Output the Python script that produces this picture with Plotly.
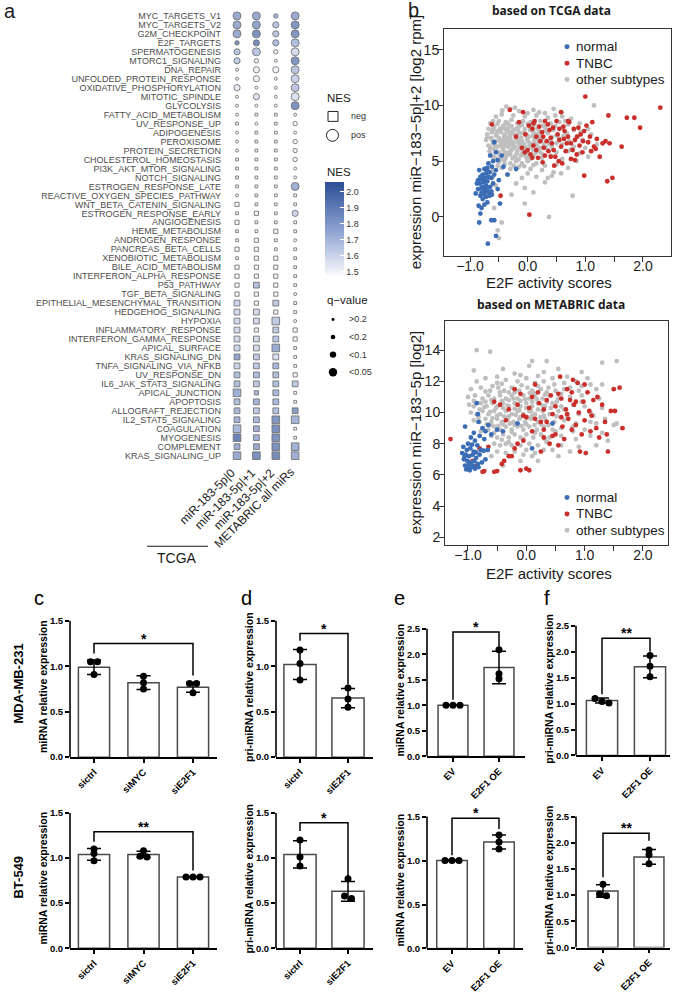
import plotly.graph_objects as go

W, H = 675, 993
def px(x): return x / W
def py(y): return 1 - y / H

FONT = "Liberation Sans"

# ---------------- panel a data ----------------
hallmarks = ["MYC_TARGETS_V1", "MYC_TARGETS_V2", "G2M_CHECKPOINT", "E2F_TARGETS", "SPERMATOGENESIS",
             "MTORC1_SIGNALING", "DNA_REPAIR", "UNFOLDED_PROTEIN_RESPONSE", "OXIDATIVE_PHOSPHORYLATION",
             "MITOTIC_SPINDLE", "GLYCOLYSIS", "FATTY_ACID_METABOLISM", "UV_RESPONSE_UP", "ADIPOGENESIS",
             "PEROXISOME", "PROTEIN_SECRETION", "CHOLESTEROL_HOMEOSTASIS", "PI3K_AKT_MTOR_SIGNALING",
             "NOTCH_SIGNALING", "ESTROGEN_RESPONSE_LATE", "REACTIVE_OXYGEN_SPECIES_PATHWAY",
             "WNT_BETA_CATENIN_SIGNALING", "ESTROGEN_RESPONSE_EARLY", "ANGIOGENESIS", "HEME_METABOLISM",
             "ANDROGEN_RESPONSE", "PANCREAS_BETA_CELLS", "XENOBIOTIC_METABOLISM", "BILE_ACID_METABOLISM",
             "INTERFERON_ALPHA_RESPONSE", "P53_PATHWAY", "TGF_BETA_SIGNALING",
             "EPITHELIAL_MESENCHYMAL_TRANSITION", "HEDGEHOG_SIGNALING", "HYPOXIA", "INFLAMMATORY_RESPONSE",
             "INTERFERON_GAMMA_RESPONSE", "APICAL_SURFACE", "KRAS_SIGNALING_DN", "TNFA_SIGNALING_VIA_NFKB",
             "UV_RESPONSE_DN", "IL6_JAK_STAT3_SIGNALING", "APICAL_JUNCTION", "APOPTOSIS",
             "ALLOGRAFT_REJECTION", "IL2_STAT5_SIGNALING", "COAGULATION", "MYOGENESIS", "COMPLEMENT",
             "KRAS_SIGNALING_UP"]
a_columns = ["miR-183-5p|0", "miR-183-5p|+1", "miR-183-5p|+2", "METABRIC all miRs"]

# signed NES (negative -> square), q class: 0 >0.2, 1 <0.2, 2 <0.1, 3 <0.05
nes_mir0 = [1.85, 1.85, 1.85, 1.98, 1.72, 1.70, 1.48, 1.48, 1.55, 1.48,
            1.48, 1.48, -1.48, 1.48, 1.48, 1.48, -1.48, -1.48, -1.48, -1.48,
            1.48, -1.50, -1.48, -1.50, -1.48, -1.48, -1.50, -1.48, -1.50, -1.50,
            -1.50, -1.50, -1.65, -1.63, -1.62, -1.62, -1.62, -1.65, -1.88, -1.65,
            -1.75, -1.75, -1.82, -1.75, -1.78, -1.82, -1.78, -2.05, -1.85, -1.85]
q_mir0 = [3, 3, 3, 1, 2, 2, 0, 0, 2, 0,
          0, 0, 0, 0, 0, 0, 0, 0, 0, 0,
          0, 1, 0, 1, 0, 0, 1, 0, 1, 1,
          1, 1, 2, 2, 2, 2, 2, 2, 2, 2,
          2, 2, 3, 2, 2, 2, 3, 3, 2, 3]
nes_mir1 = [1.85, 1.88, 1.97, 2.00, 1.72, 1.50, 1.52, 1.52, 1.48, 1.58,
            1.48, -1.48, 1.48, -1.48, -1.48, -1.48, -1.48, -1.48, -1.48, -1.48,
            -1.48, -1.48, -1.50, -1.48, -1.48, -1.50, -1.50, -1.50, -1.50, -1.50,
            -1.74, -1.50, -1.52, -1.62, -1.62, -1.55, -1.63, -1.62, -1.70, -1.70,
            -1.75, -1.70, -1.78, -1.80, -1.70, -1.78, -1.82, -1.82, -1.85, -1.98]
q_mir1 = [3, 3, 3, 2, 3, 1, 2, 2, 0, 2,
          0, 0, 0, 0, 0, 0, 0, 0, 0, 0,
          0, 0, 1, 0, 0, 1, 1, 1, 1, 1,
          2, 1, 1, 2, 2, 1, 2, 2, 2, 2,
          2, 2, 1, 2, 2, 2, 2, 2, 2, 3]
nes_mir2 = [1.80, 1.72, 1.72, 1.75, 1.52, 1.48, 1.50, 1.48, 1.48, 1.48,
            1.48, -1.48, -1.48, -1.48, -1.48, -1.48, -1.48, -1.48, -1.48, -1.48,
            -1.48, -1.48, -1.48, -1.48, -1.50, -1.48, -1.48, -1.50, -1.50, -1.50,
            -1.50, -1.50, -1.70, -1.52, -1.70, -1.70, -1.72, -1.85, -1.60, -1.78,
            -1.75, -1.75, -1.78, -1.78, -1.75, -1.95, -1.98, -1.98, -1.98, -2.00]
q_mir2 = [1, 2, 2, 2, 1, 0, 2, 0, 0, 0,
          0, 0, 0, 0, 0, 0, 0, 0, 0, 0,
          0, 0, 0, 0, 1, 0, 0, 1, 1, 1,
          1, 1, 2, 1, 3, 2, 2, 3, 2, 2,
          2, 2, 2, 2, 2, 3, 3, 3, 3, 3]
nes_metabric = [1.85, 1.95, 1.95, 1.75, 1.62, 1.95, 1.72, 1.66, 1.72, 1.58,
                1.97, 1.48, 1.50, 1.48, 1.50, 1.50, 1.50, 1.48, 1.48, 1.82,
                -1.48, -1.48, 1.65, -1.48, -1.48, 1.48, -1.48, -1.48, -1.48, -1.48,
                -1.48, 1.48, -1.48, -1.48, 1.48, -1.50, -1.50, -1.48, -1.48, -1.48,
                -1.50, -1.70, -1.48, -1.48, -1.92, -1.80, -1.48, -1.48, -1.82, -1.82]
q_metabric = [3, 3, 3, 3, 3, 3, 3, 3, 3, 3,
              3, 0, 1, 0, 1, 1, 1, 0, 0, 3,
              0, 0, 2, 0, 0, 0, 0, 0, 0, 0,
              0, 0, 0, 0, 0, 1, 1, 0, 0, 0,
              1, 2, 0, 0, 2, 3, 0, 0, 3, 3]
q_labels = [">0.2", "<0.2", "<0.1", "<0.05"]
nes_ticks = [1.5, 1.6, 1.7, 1.8, 1.9, 2.0]

# ---------------- panel b data ----------------
tcga_other = [(-0.37, 9.9), (-0.3, 9.7), (-0.15, 9.5), (0.1, 9.6), (0.45, 9.7), (0.58, 9.4), (1.15, 10.0), (0.3, 9.3),
              (-0.55, 9.0), (-0.45, 9.2), (-0.25, 9.1), (-0.05, 9.0), (0.15, 9.1), (0.35, 8.9), (0.6, 9.0), (0.75, 8.8), (-0.6, 8.6),
              (-0.65, 8.4), (-0.5, 8.6), (-0.38, 8.5), (-0.28, 8.7), (-0.18, 8.4), (-0.08, 8.6), (0.05, 8.5), (0.22, 8.6), (0.4, 8.4), (0.55, 8.5), (0.7, 8.3), (0.9, 8.4),
              (-0.68, 7.9), (-0.58, 8.1), (-0.48, 7.9), (-0.42, 8.2), (-0.33, 8.0), (-0.25, 7.8), (-0.15, 8.1), (-0.05, 7.9), (0.08, 8.1), (0.18, 7.9), (0.3, 8.0), (0.45, 7.8), (0.6, 8.0), (0.8, 7.8), (1.05, 7.9),
              (-0.7, 7.4), (-0.62, 7.6), (-0.55, 7.3), (-0.47, 7.6), (-0.4, 7.4), (-0.32, 7.6), (-0.22, 7.3), (-0.12, 7.5), (-0.02, 7.4), (0.1, 7.6), (0.22, 7.3), (0.35, 7.5), (0.5, 7.3), (0.68, 7.5), (0.85, 7.2), (1.1, 7.4),
              (-0.72, 6.9), (-0.63, 7.1), (-0.56, 6.8), (-0.5, 7.1), (-0.43, 6.9), (-0.36, 7.1), (-0.28, 6.8), (-0.2, 7.0), (-0.1, 6.8), (0.0, 7.1), (0.12, 6.9), (0.25, 7.0), (0.4, 6.8), (0.55, 7.0), (0.72, 6.8), (0.95, 6.9),
              (-0.68, 6.4), (-0.6, 6.6), (-0.52, 6.3), (-0.45, 6.6), (-0.38, 6.4), (-0.3, 6.6), (-0.22, 6.3), (-0.14, 6.5), (-0.05, 6.3), (0.05, 6.6), (0.15, 6.4), (0.28, 6.5), (0.42, 6.3), (0.6, 6.5), (0.8, 6.3), (1.2, 6.5),
              (-0.66, 5.9), (-0.58, 6.1), (-0.5, 5.8), (-0.42, 6.0), (-0.34, 5.8), (-0.26, 6.1), (-0.18, 5.9), (-0.1, 6.1), (0.0, 5.8), (0.1, 6.0), (0.22, 5.8), (0.35, 6.0), (0.5, 5.8), (0.7, 5.9), (0.9, 5.7),
              (-0.6, 5.4), (-0.48, 5.5), (-0.38, 5.3), (-0.3, 5.6), (-0.22, 5.4), (-0.12, 5.5), (-0.02, 5.3), (0.1, 5.5), (0.25, 5.3), (0.4, 5.5), (0.6, 5.2), (0.85, 5.0), (1.05, 5.4),
              (-0.5, 4.9), (-0.4, 5.1), (-0.3, 4.8), (-0.2, 5.0), (-0.1, 4.8), (0.0, 5.0), (0.15, 4.8), (0.3, 4.6), (0.5, 4.7),
              (-0.45, 4.4), (-0.3, 4.3), (-0.15, 4.5), (0.05, 4.3), (0.25, 4.2), (0.45, 4.0), (0.7, 4.4), (-0.6, 4.2),
              (-0.35, 3.8), (-0.1, 3.5), (0.35, 3.5), (0.42, 3.7), (0.3, 3.1), (-0.2, 3.0), (-0.05, 2.6), (0.1, 2.2), (0.78, 1.9),
              (-0.28, 2.0), (-0.05, 1.2), (0.37, 0.0), (-0.45, -0.5), (-0.52, -1.2), (-0.5, -1.9), (-0.58, 0.8), (-0.55, 2.8),
              (-0.6, 3.6), (0.0, 3.9), (0.58, 3.9), (0.15, 3.6),
              (-0.46, 7.8), (-0.36, 7.7), (-0.26, 7.5), (-0.16, 7.7), (-0.06, 7.6), (0.04, 7.8), (0.14, 7.4), (-0.41, 7.2),
              (-0.31, 7.3), (-0.21, 7.2), (-0.11, 7.1), (-0.01, 6.95), (0.09, 7.25), (-0.47, 6.5), (-0.37, 6.7), (-0.27, 6.45),
              (-0.17, 6.7), (-0.07, 6.55), (0.03, 6.4), (0.19, 6.7), (-0.44, 6.2), (-0.34, 6.3), (-0.24, 6.25), (-0.14, 6.2),
              (-0.04, 6.1), (0.06, 6.25), (-0.4, 5.7), (-0.29, 5.95), (-0.19, 5.7), (-0.09, 5.75), (0.02, 5.6), (-0.55, 5.9),
              (-0.62, 6.9), (-0.53, 7.7), (-0.33, 8.3), (-0.13, 8.3), (0.12, 8.3), (0.27, 8.2),
              (-0.65, 6.2), (-0.57, 6.45), (-0.49, 6.85), (-0.41, 6.45), (-0.33, 6.9), (-0.25, 6.65), (-0.17, 6.9), (-0.09, 6.35),
              (0.01, 6.75), (0.11, 6.55), (0.21, 6.2), (0.31, 6.3), (-0.6, 7.85), (-0.52, 8.35), (-0.44, 8.0), (-0.36, 8.45),
              (-0.28, 8.15), (-0.2, 7.9), (-0.1, 8.25), (0.0, 8.35), (0.1, 7.95), (0.2, 7.65), (0.32, 7.75), (0.42, 7.15),
              (-0.64, 5.6), (-0.56, 5.3), (-0.46, 5.15), (-0.36, 5.55), (-0.26, 5.25), (-0.16, 5.15), (-0.06, 5.55), (0.04, 5.2),
              (0.14, 5.75), (0.26, 5.6), (-0.52, 4.6), (-0.4, 4.75), (-0.24, 4.6), (-0.06, 4.55), (0.1, 4.65), (-0.44, 9.55),
              (-0.22, 9.8), (0.0, 9.3), (0.2, 9.4), (0.48, 9.1), (0.65, 8.6), (0.5, 6.6), (0.62, 7.25), (0.38, 6.55),
              (0.48, 8.15), (0.75, 6.05), (1.0, 6.2), (0.92, 7.6), (-0.7, 7.15), (-0.54, 7.45), (-0.38, 7.9), (-0.18, 7.4),
              (0.02, 7.2), (0.18, 7.1), (-0.3, 7.05), (-0.12, 6.65)]
tcga_tnbc = [(-0.62, 8.3), (-0.31, 9.6), (-0.08, 9.4), (0.02, 8.2), (0.08, 7.9), (-0.04, 7.4), (-0.1, 6.2), (-0.05, 5.8),
             (0.0, 6.0), (0.05, 5.6), (0.1, 6.4), (0.15, 7.2), (0.12, 8.6), (0.2, 8.1), (0.25, 7.6), (0.22, 6.8), (0.28, 6.2),
             (0.3, 5.5), (0.26, 4.9), (0.35, 8.3), (0.38, 7.8), (0.4, 7.1), (0.42, 6.6), (0.45, 6.0), (0.48, 5.4), (0.5, 8.6),
             (0.52, 7.4), (0.55, 6.9), (0.58, 6.3), (0.58, 9.4), (0.62, 8.1), (0.64, 7.7), (0.66, 5.9), (0.68, 6.6), (0.7, 7.2),
             (0.72, 8.5), (0.75, 5.2), (0.78, 6.0), (0.8, 7.9), (0.82, 6.9), (0.85, 5.6), (0.88, 8.0), (0.9, 6.4), (0.92, 7.4),
             (0.95, 5.8), (0.98, 3.7), (1.0, 10.8), (1.02, 8.2), (1.05, 6.7), (1.08, 7.2), (1.1, 5.9), (1.15, 6.3), (1.2, 7.0),
             (1.25, 5.4), (1.3, 6.6), (1.35, 6.8), (1.38, 3.2), (1.42, 6.6), (1.4, 9.1), (1.47, 3.5), (1.63, 6.3), (1.72, 8.9),
             (1.85, 8.9), (1.95, 8.0), (2.3, 9.8), (0.03, 0.2), (-0.47, 1.9), (0.6, 4.8), (0.46, 4.6), (0.18, 5.3), (0.33, 6.8),
             (0.15, 6.0), (0.08, 5.3), (0.36, 5.9), (0.54, 5.0), (0.63, 7.0), (0.75, 6.6), (0.86, 7.2), (0.96, 6.8), (0.7, 8.6),
             (0.44, 8.0), (0.3, 8.6), (0.1, 8.4), (-0.2, 7.2), (-0.15, 8.5), (0.98, 7.7), (1.12, 8.5), (0.82, 5.1), (1.18, 6.1),
             (0.55, 7.9), (0.27, 7.2), (0.4, 5.4)]
tcga_normal = [(-0.69, -2.4), (-0.55, -1.7), (-0.58, -0.3), (-0.63, -0.3), (-0.84, -0.5), (-0.82, 0.3), (-0.8, 0.8),
               (-0.85, 1.0), (-0.75, 1.1), (-0.7, 1.3), (-0.78, 1.6), (-0.72, 1.8), (-0.82, 1.9), (-0.66, 1.9), (-0.62, 2.0),
               (-0.8, 2.2), (-0.75, 2.3), (-0.7, 2.4), (-0.86, 2.5), (-0.78, 2.7), (-0.72, 2.8), (-0.65, 2.7), (-0.83, 3.0),
               (-0.76, 3.1), (-0.7, 3.2), (-0.6, 3.0), (-0.86, 3.3), (-0.8, 3.4), (-0.74, 3.5), (-0.68, 3.6), (-0.63, 3.5),
               (-0.78, 3.8), (-0.72, 3.9), (-0.66, 4.0), (-0.58, 3.8), (-0.84, 4.2), (-0.75, 4.3), (-0.7, 4.4), (-0.62, 4.5),
               (-0.55, 4.2), (-0.68, 4.8), (-0.6, 5.0), (-0.52, 5.1), (-0.65, 5.5), (-0.55, 5.8), (-0.45, 5.5), (-0.35, 3.8),
               (-0.42, 4.5), (-0.2, 4.3), (-0.58, 6.7), (-0.75, 2.0), (-0.8, 2.6), (-0.73, 2.6), (-0.68, 2.2), (-0.63, 2.3),
               (-0.77, 3.3), (-0.82, 3.6), (-0.69, 4.1), (-0.88, 3.0), (-0.9, 2.1), (-0.48, 1.2), (-0.52, 2.5), (-0.5, 3.3)]

metabric_other = [(-0.85, 14.0), (-0.62, 13.9), (-0.9, 12.7), (-0.4, 12.8), (0.05, 13.0), (0.1, 13.3), (0.35, 13.3), (0.55, 12.8),
                  (0.95, 12.6), (1.3, 13.2), (1.55, 13.3), (-0.2, 12.5), (0.3, 12.6), (1.05, 12.2), (1.3, 11.8),
                  (-0.85, 12.0), (-0.7, 12.2), (-0.5, 11.9), (-0.35, 12.1), (-0.15, 12.0), (0.0, 12.2), (0.15, 11.9), (0.3, 12.0),
                  (0.45, 12.2), (0.65, 11.9), (0.85, 12.0), (1.1, 11.8),
                  (-0.95, 11.5), (-0.78, 11.6), (-0.62, 11.4), (-0.48, 11.6), (-0.38, 11.4), (-0.25, 11.6), (-0.12, 11.4), (0.02, 11.6),
                  (0.12, 11.3), (0.25, 11.5), (0.38, 11.6), (0.5, 11.4), (0.65, 11.5), (0.9, 11.4), (1.2, 11.5),
                  (-1.0, 11.0), (-0.88, 11.1), (-0.75, 10.9), (-0.65, 11.1), (-0.55, 10.9), (-0.45, 11.1), (-0.35, 10.9), (-0.25, 11.1),
                  (-0.15, 10.9), (-0.05, 11.1), (0.05, 10.9), (0.15, 11.1), (0.28, 10.9), (0.4, 11.1), (0.55, 10.9), (0.75, 11.0),
                  (0.95, 11.1), (1.25, 10.9),
                  (-0.98, 10.5), (-0.9, 10.4), (-0.78, 10.6), (-0.68, 10.4), (-0.58, 10.6), (-0.5, 10.4), (-0.4, 10.6), (-0.3, 10.4),
                  (-0.2, 10.6), (-0.1, 10.4), (0.0, 10.6), (0.1, 10.4), (0.2, 10.6), (0.32, 10.4), (0.45, 10.6), (0.6, 10.4),
                  (0.8, 10.5), (1.0, 10.4), (1.3, 10.3),
                  (-0.95, 10.0), (-0.85, 9.9), (-0.75, 10.1), (-0.65, 9.9), (-0.55, 10.1), (-0.45, 9.9), (-0.35, 10.1), (-0.25, 9.9),
                  (-0.15, 10.1), (-0.05, 9.9), (0.05, 10.1), (0.15, 9.9), (0.28, 10.1), (0.4, 9.9), (0.55, 10.1), (0.7, 9.8),
                  (0.9, 9.9), (1.15, 9.8), (1.5, 9.2),
                  (-0.9, 9.5), (-0.8, 9.4), (-0.7, 9.6), (-0.6, 9.4), (-0.5, 9.6), (-0.42, 9.4), (-0.32, 9.6), (-0.22, 9.4),
                  (-0.12, 9.6), (-0.02, 9.4), (0.08, 9.6), (0.2, 9.4), (0.32, 9.6), (0.48, 9.4), (0.65, 9.5), (0.85, 9.3),
                  (1.1, 9.4), (1.35, 9.6),
                  (-0.75, 9.0), (-0.65, 8.9), (-0.55, 9.1), (-0.45, 8.9), (-0.35, 9.1), (-0.25, 8.9), (-0.15, 9.1), (-0.05, 8.9),
                  (0.05, 9.1), (0.18, 8.9), (0.3, 9.1), (0.45, 8.9), (0.6, 9.0), (0.8, 8.8), (1.0, 8.9), (1.3, 8.7), (1.55, 9.3),
                  (-0.6, 8.5), (-0.5, 8.4), (-0.4, 8.6), (-0.3, 8.4), (-0.2, 8.6), (-0.1, 8.4), (0.0, 8.6), (0.12, 8.4),
                  (0.25, 8.6), (0.4, 8.4), (0.6, 8.5), (0.85, 8.3), (1.1, 8.5), (1.4, 8.2),
                  (-0.55, 8.0), (-0.45, 7.9), (-0.3, 8.1), (-0.1, 7.9), (0.05, 8.0), (0.2, 7.9), (0.35, 8.1), (0.6, 7.9),
                  (0.9, 7.8), (1.2, 7.9),
                  (-0.5, 7.5), (-0.35, 7.4), (-0.05, 7.3), (0.15, 7.4), (0.45, 7.6), (0.75, 7.5), (-0.6, 7.2), (-0.1, 6.9),
                  (0.2, 6.9), (-0.4, 6.6), (0.1, 7.2), (0.55, 7.2), (-0.2, 7.5),
                  (-0.6, 10.8), (-0.4, 10.3), (-0.2, 10.25), (0.0, 10.3), (0.2, 10.2), (0.35, 10.7), (-0.5, 9.8), (-0.3, 9.75),
                  (-0.1, 9.7), (0.1, 9.8), (0.3, 9.8), (-0.7, 10.7), (-0.8, 10.2), (-0.45, 11.3), (-0.2, 11.3), (0.1, 11.4),
                  (0.35, 11.3), (-0.6, 9.2), (-0.4, 9.25), (-0.2, 9.2), (0.0, 9.25), (0.25, 9.25), (-0.3, 10.8), (-0.1, 10.75),
                  (0.1, 10.7),
                  (-0.9, 10.75), (-0.72, 10.35), (-0.62, 10.05), (-0.52, 10.3), (-0.42, 10.75), (-0.32, 10.45), (-0.22, 10.9),
                  (-0.12, 10.15), (-0.02, 10.85), (0.08, 10.1), (0.18, 10.85), (0.28, 10.45), (0.42, 10.3), (0.52, 10.7),
                  (0.65, 10.2), (-0.82, 9.7), (-0.68, 9.25), (-0.58, 9.65), (-0.48, 9.15), (-0.38, 9.75), (-0.28, 9.3),
                  (-0.18, 9.85), (-0.08, 9.15), (0.02, 9.7), (0.14, 9.2), (0.24, 9.7), (0.38, 9.2), (0.52, 9.75), (-0.7, 11.35),
                  (-0.58, 11.7), (-0.42, 11.85), (-0.3, 11.3), (-0.08, 11.75), (0.06, 11.25), (0.2, 11.7), (0.32, 11.15),
                  (0.48, 11.8), (0.6, 11.2), (0.75, 11.6), (-0.55, 8.7), (-0.42, 8.25), (-0.25, 8.75), (-0.05, 8.3), (0.15, 8.7),
                  (0.32, 8.3), (0.5, 8.8), (-0.78, 8.8), (-0.5, 12.3), (-0.1, 12.4), (0.2, 12.35), (0.7, 12.3), (0.95, 10.7),
                  (1.1, 10.0), (1.2, 9.3), (0.8, 9.1), (0.95, 11.7), (-0.35, 8.0), (0.0, 7.6), (0.3, 7.6), (-0.25, 7.9)]
metabric_tnbc = [(-1.3, 8.3), (-0.92, 6.9), (-0.85, 6.6), (-0.75, 6.2), (-0.72, 6.25), (-0.55, 6.2), (-0.5, 6.25), (-0.42, 6.7),
                 (-0.38, 6.9), (-0.3, 7.2), (-0.25, 7.2), (-0.2, 7.7), (-0.15, 8.0), (-0.1, 6.3), (0.0, 6.4), (0.05, 6.3),
                 (-0.65, 7.8), (-0.8, 7.7),
                 (-0.55, 10.7), (-0.45, 10.5), (-0.35, 9.5), (-0.3, 10.2), (-0.2, 11.5), (-0.15, 10.5), (-0.1, 11.2), (-0.05, 9.8),
                 (0.0, 9.7), (0.05, 10.3), (0.1, 11.0), (0.15, 11.8), (0.2, 11.3), (0.22, 10.6), (0.25, 9.4), (0.3, 8.4),
                 (0.3, 8.9), (0.35, 10.8), (0.4, 8.0), (0.42, 11.1), (0.45, 9.9), (0.5, 10.4), (0.5, 8.6), (0.55, 11.2),
                 (0.58, 12.3), (0.6, 10.9), (0.62, 9.1), (0.65, 8.3), (0.68, 10.2), (0.7, 11.5), (0.72, 9.6), (0.75, 10.8),
                 (0.78, 8.9), (0.8, 12.1), (0.82, 10.5), (0.85, 9.2), (0.88, 11.9), (0.9, 10.0), (0.92, 7.5), (0.95, 8.6),
                 (0.98, 10.7), (1.0, 9.5), (1.02, 7.4), (1.05, 11.3), (1.08, 10.1), (1.1, 8.8), (1.12, 9.8), (1.15, 10.8),
                 (1.2, 9.0), (1.22, 11.0), (1.25, 8.4), (1.3, 10.5), (1.35, 9.4), (1.4, 7.5), (1.38, 8.6), (1.45, 10.1),
                 (1.5, 11.5), (1.52, 10.1), (1.6, 11.6), (1.65, 9.0), (0.7, 9.9), (0.6, 9.7), (0.35, 9.4), (0.15, 9.6),
                 (0.85, 10.7), (1.0, 11.8), (0.45, 8.5), (0.55, 7.9), (0.25, 7.5), (-0.05, 8.2), (0.1, 8.8), (0.3, 10.2),
                 (0.78, 11.3)]
metabric_normal = [(-1.05, 9.1), (-0.85, 10.6), (-0.83, 9.9), (-0.82, 9.4), (-0.75, 9.0), (-0.7, 8.8), (-0.65, 9.2), (-0.9, 8.7),
                   (-0.95, 8.4), (-1.0, 8.0), (-0.88, 8.2), (-0.8, 8.5), (-0.72, 8.3), (-1.08, 7.8), (-1.02, 7.6), (-0.96, 7.7),
                   (-0.9, 7.5), (-0.84, 7.9), (-0.78, 7.6), (-1.1, 7.4), (-1.04, 7.3), (-0.98, 7.2), (-0.92, 7.3), (-0.86, 7.1),
                   (-0.8, 7.3), (-1.07, 7.0), (-1.01, 6.9), (-0.95, 6.8), (-0.89, 6.9), (-0.83, 6.7), (-1.05, 6.6), (-1.0, 6.4),
                   (-0.94, 6.5), (-0.88, 6.4), (-0.82, 6.5), (-1.03, 6.35), (-0.97, 6.3), (-0.91, 6.6), (-0.76, 6.8), (-0.7, 7.0),
                   (-0.66, 7.6), (-0.6, 8.6), (-0.5, 8.9), (-0.4, 8.8), (-0.15, 9.3), (0.45, 9.3), (0.1, 7.7), (-0.93, 7.95),
                   (-1.06, 7.15), (-0.99, 6.65), (-0.86, 7.45), (-0.73, 7.55)]
subtype_names = ["normal", "TNBC", "other subtypes"]
subtype_colors = ["#3A6DB5", "#C9302C", "#BFBFBF"]
x_ticks_b = [-1.0, -0.5, 0.0, 0.5, 1.0, 1.5, 2.0]
x_ticktext_b = ["\u22121.0", "", "0.0", "", "1.0", "", "2.0"]

# ---------------- panels c-f data ----------------
c1_groups = ["sictrl", "siMYC", "siE2F1"]
c1_mean = [0.99, 0.82, 0.77]
c1_sd = [0.08, 0.075, 0.055]
c1_pts = [[1.05, 1.05, 0.91], [0.89, 0.82, 0.75], [0.81, 0.81, 0.71]]
c1_sig = [0, 2, 1.25, 1.14, 0.90, "*"]

c2_groups = ["sictrl", "siMYC", "siE2F1"]
c2_mean = [1.04, 1.04, 0.79]
c2_sd = [0.065, 0.035, 0.005]
c2_pts = [[1.10, 1.05, 0.97], [1.08, 1.02, 1.01], [0.79, 0.79, 0.79]]
c2_sig = [0, 2, 1.29, 1.18, 0.86, "**"]

d1_groups = ["sictrl", "siE2F1"]
d1_mean = [1.02, 0.65]
d1_sd = [0.165, 0.105]
d1_pts = [[1.18, 1.03, 0.85], [0.76, 0.64, 0.55]]
d1_sig = [0, 1, 1.36, 1.28, 0.80, "*"]

d2_groups = ["sictrl", "siE2F1"]
d2_mean = [1.04, 0.63]
d2_sd = [0.15, 0.11]
d2_pts = [[1.20, 1.01, 0.91], [0.77, 0.58, 0.55]]
d2_sig = [0, 1, 1.39, 1.30, 0.80, "*"]

e1_groups = ["EV", "E2F1 OE"]
e1_mean = [1.0, 1.74]
e1_sd = [0.005, 0.32]
e1_pts = [[1.0, 1.0, 1.0], [2.09, 1.62, 1.52]]
e1_sig = [0, 1, 2.44, 1.11, 2.15, "*"]

e2_groups = ["EV", "E2F1 OE"]
e2_mean = [1.0, 1.21]
e2_sd = [0.005, 0.08]
e2_pts = [[1.0, 1.0, 1.0], [1.29, 1.21, 1.13]]
e2_sig = [0, 1, 1.48, 1.06, 1.36, "*"]

f1_groups = ["EV", "E2F1 OE"]
f1_mean = [1.06, 1.71]
f1_sd = [0.05, 0.21]
f1_pts = [[1.10, 1.04, 1.01], [1.93, 1.72, 1.52]]
f1_sig = [0, 1, 2.26, 1.18, 2.0, "**"]

f2_groups = ["EV", "E2F1 OE"]
f2_mean = [1.08, 1.73]
f2_sd = [0.12, 0.14]
f2_pts = [[1.21, 1.02, 0.99], [1.86, 1.77, 1.60]]
f2_sig = [0, 1, 2.18, 1.34, 2.04, "**"]

y_ticks_15 = [0.0, 0.5, 1.0, 1.5]
y_ticks_25 = [0.0, 0.5, 1.0, 1.5, 2.0, 2.5]

# ---------------- figure ----------------
fig = go.Figure()
layout = dict(width=W, height=H, margin=dict(l=0, r=0, t=0, b=0), paper_bgcolor="white",
              plot_bgcolor="white", showlegend=False, font=dict(family=FONT, color="#222"))
annotations = []
shapes = []

def ann(text, x, y, size, xanchor="center", yanchor="middle", angle=0, color="#1a1a1a", family=FONT, bold=False, **kw):
    t = "<b>%s</b>" % text if bold else text
    annotations.append(dict(text=t, x=px(x), y=py(y), xref="paper", yref="paper", showarrow=False,
                            xanchor=xanchor, yanchor=yanchor, textangle=angle,
                            font=dict(size=size, color=color, family=family), **kw))

# ----- panel a -----
CIRC = [3.0, 4.4, 6.2, 8.0]
SQ = [2.8, 4.2, 5.8, 7.6]
xs, ys, sym, siz, col = [], [], [], [], []
for ci, (nes, qs) in enumerate(zip([nes_mir0, nes_mir1, nes_mir2, nes_metabric],
                                   [q_mir0, q_mir1, q_mir2, q_metabric])):
    for ri, (n, q) in enumerate(zip(nes, qs)):
        xs.append(ci)
        ys.append(ri)
        pos = n > 0
        sym.append("circle" if pos else "square")
        siz.append((CIRC if pos else SQ)[q])
        col.append(abs(n))

fig.add_trace(go.Scatter(
    x=xs, y=ys, mode="markers", xaxis="x", yaxis="y", hoverinfo="skip",
    marker=dict(symbol=sym, size=siz, color=col, cmin=1.48, cmax=2.06,
                colorscale=[[0, "#f6f8fc"], [0.5, "#8a9fcf"], [1, "#2b4d94"]],
                line=dict(color="#333333", width=0.85), showscale=True,
                colorbar=dict(x=px(325), xanchor="left", y=py(183), yanchor="top",
                              len=93, lenmode="pixels", thickness=19, thicknessmode="pixels",
                              xpad=0, ypad=0, outlinewidth=0, tickvals=nes_ticks,
                              ticktext=["%.1f" % v for v in nes_ticks], ticks="inside", ticklen=4,
                              tickcolor="white", tickwidth=1,
                              tickfont=dict(size=9, color="#333", family=FONT)))))

layout["xaxis"] = dict(domain=[px(225), px(307)], range=[-0.62, 3.61], visible=False, anchor="y")
layout["yaxis"] = dict(domain=[py(464), py(10)], range=[49.67, -0.665], anchor="x",
                       tickvals=list(range(len(hallmarks))), ticktext=hallmarks, ticks="",
                       showline=False, showgrid=False, zeroline=False, ticklabelstandoff=3,
                       tickfont=dict(size=9, color="#4d4d4d", family=FONT))

col_px = [237.5, 256.9, 276.3, 295.7]
for cpx, lab in zip(col_px, a_columns):
    ann(lab, cpx + 4, 465, 12, xanchor="right", yanchor="top", angle=-45, color="#1a1a1a")
shapes.append(dict(type="line", xref="paper", yref="paper", x0=px(147), x1=px(208), y0=py(549), y1=py(549),
                   line=dict(color="#1a1a1a", width=1)))
ann("TCGA", 177, 561, 14)
ann("a", 2, 11, 20, xanchor="left")

# NES shape legend
ann("NES", 325, 98, 11.5, xanchor="left")
shapes.append(dict(type="rect", xref="paper", yref="paper", x0=px(328), x1=px(338), y0=py(122), y1=py(112),
                   line=dict(color="#222", width=1), fillcolor="white"))
shapes.append(dict(type="circle", xref="paper", yref="paper", x0=px(326.5), x1=px(338.5), y0=py(142), y1=py(130),
                   line=dict(color="#222", width=1), fillcolor="white"))
ann("neg", 349, 117, 9, xanchor="left", color="#333")
ann("pos", 349, 136, 9, xanchor="left", color="#333")
ann("NES", 325, 173, 11.5, xanchor="left")
# q-value legend
ann("q\u2212value", 325, 302, 11.5, xanchor="left")
q_leg_d = [3.0, 4.6, 6.4, 8.4]
for i, (lab, d) in enumerate(zip(q_labels, q_leg_d)):
    yc = 321 + i * 17.7
    shapes.append(dict(type="circle", xref="paper", yref="paper", x0=px(333 - d / 2), x1=px(333 + d / 2),
                       y0=py(yc + d / 2), y1=py(yc - d / 2), line=dict(width=0), fillcolor="black"))
    ann(lab, 347, yc, 9, xanchor="left", color="#333")

# ----- panel b -----
def add_scatter_panel(idx, groups, dom_x, dom_y, xr, yr, yticks, title, title_y, ytitle, xt_y, leg_y0):
    for pts, color in zip(groups, [subtype_colors[2], subtype_colors[1], subtype_colors[0]]):
        fig.add_trace(go.Scatter(x=[p[0] for p in pts], y=[p[1] for p in pts], mode="markers",
                                 xaxis="x%d" % idx, yaxis="y%d" % idx, hoverinfo="skip",
                                 marker=dict(color=color, size=4.8, line=dict(width=0))))
    layout["xaxis%d" % idx] = dict(domain=[px(dom_x[0]), px(dom_x[1])], range=xr, anchor="y%d" % idx,
                                   showline=True, mirror=True, linecolor="#333", linewidth=1,
                                   ticks="outside", ticklen=5, tickcolor="#333", tickvals=x_ticks_b,
                                   ticktext=x_ticktext_b, showgrid=False, zeroline=False,
                                   ticklabelstandoff=-8,
                                   tickfont=dict(size=14, family=FONT, color="#222"))
    layout["yaxis%d" % idx] = dict(domain=[py(dom_y[1]), py(dom_y[0])], range=yr, anchor="x%d" % idx,
                                   showline=True, mirror=True, linecolor="#333", linewidth=1,
                                   ticks="outside", ticklen=5, tickcolor="#333", tickvals=yticks,
                                   showgrid=False, zeroline=False, ticklabelstandoff=-4,
                                   tickfont=dict(size=14, family=FONT, color="#222"))
    ann(title, 551, title_y, 12, family="Open Sans", bold=True)
    ann(ytitle, 415, (dom_y[0] + dom_y[1]) / 2, 15, angle=-90)
    ann("E2F activity scores", 549, xt_y, 15)
    for i, (name, color) in enumerate(zip(subtype_names, subtype_colors)):
        yc = leg_y0 + i * 16.5
        shapes.append(dict(type="circle", xref="paper", yref="paper", x0=px(564.5), x1=px(569.5),
                           y0=py(yc + 2.5), y1=py(yc - 2.5), line=dict(width=0), fillcolor=color))
        ann(name, 574, yc, 13.5, xanchor="left")

add_scatter_panel(2, [tcga_other, tcga_tnbc, tcga_normal], (444, 671), (29, 257), [-1.451, 2.486], [-3.48, 16.875],
                  [0, 5, 10, 15], "based on TCGA data", 11,
                  "expression miR\u2212183\u22125p|+2 [log2 rpm]", 284, 47)
add_scatter_panel(3, [metabric_other, metabric_tnbc, metabric_normal], (445, 668), (323, 548), [-1.394, 2.43],
                  [1.49, 15.85], [2, 4, 6, 8, 10, 12, 14], "based on METABRIC data", 306,
                  "expression miR\u2212183\u22125p [log2]", 576, 500)
ann("b", 414, 10, 20)

# ----- panels c-f -----
def swarm(vals, ppu_y, ux, thr_px=4.0, step_px=7.0):
    order = sorted(range(len(vals)), key=lambda i: -vals[i])
    offs = [0.0] * len(vals)
    clusters = []
    for i in order:
        if clusters and abs(vals[clusters[-1][-1]] - vals[i]) * ppu_y < thr_px:
            clusters[-1].append(i)
        else:
            clusters.append([i])
    for cl in clusters:
        n = len(cl)
        for k, i in enumerate(cl):
            offs[i] = (k - (n - 1) / 2) * step_px / ux
    return offs

bar_sets = {
    "c1": (c1_groups, c1_mean, c1_sd, c1_pts, c1_sig),
    "c2": (c2_groups, c2_mean, c2_sd, c2_pts, c2_sig),
    "d1": (d1_groups, d1_mean, d1_sd, d1_pts, d1_sig),
    "d2": (d2_groups, d2_mean, d2_sd, d2_pts, d2_sig),
    "e1": (e1_groups, e1_mean, e1_sd, e1_pts, e1_sig),
    "e2": (e2_groups, e2_mean, e2_sd, e2_pts, e2_sig),
    "f1": (f1_groups, f1_mean, f1_sd, f1_pts, f1_sig),
    "f2": (f2_groups, f2_mean, f2_sd, f2_pts, f2_sig),
}
# key, axis idx, x_left, x_right, cat0 px, px per category, y0 px, ytop px, top value, bar width, y title
bar_frames = [
    ("c1", 4, 70, 217, 94, 49.5, 761, 624, 1.5, 0.63, "miRNA relative expression"),
    ("d1", 5, 276, 373, 300, 48, 761, 624, 1.5, 0.67, "pri-miRNA relative expression"),
    ("e1", 6, 427, 525, 453, 46, 760, 632, 2.5, 0.65, "miRNA relative expression"),
    ("f1", 7, 576, 670, 602, 48, 759.3, 629, 2.5, 0.65, "pri-miRNA relative expression"),
    ("c2", 8, 70, 217, 94, 49.5, 953, 817, 1.5, 0.63, "miRNA relative expression"),
    ("d2", 9, 276, 373, 300, 48, 953, 817, 1.5, 0.67, "pri-miRNA relative expression"),
    ("e2", 10, 427, 523, 452, 47, 953.3, 820.7, 1.5, 0.65, "miRNA relative expression"),
    ("f2", 11, 576, 670, 603, 46, 952.3, 820.7, 2.5, 0.65, "pri-miRNA relative expression"),
]
TICKF = dict(size=9.5, family=FONT, color="black", weight="bold")
for key, idx, xl, xr, c0, ux, y0, ytop, topv, bw, ytitle in bar_frames:
    groups, mean, sd, pts, sig = bar_sets[key]
    ppu = (y0 - ytop) / topv
    ext = topv * 1.12
    xa, ya = "x%d" % idx, "y%d" % idx
    cats = list(range(len(groups)))
    fig.add_trace(go.Bar(x=cats, y=mean, width=bw, xaxis=xa, yaxis=ya, hoverinfo="skip",
                         marker=dict(color="white", line=dict(color="#4a4a4a", width=1.5)),
                         error_y=dict(type="data", array=sd, visible=True, color="black",
                                      thickness=1.5, width=7)))
    dx, dy = [], []
    for ci, vals in enumerate(pts):
        offs = swarm(vals, ppu, ux)
        for v, o in zip(vals, offs):
            dx.append(ci + o)
            dy.append(v)
    fig.add_trace(go.Scatter(x=dx, y=dy, mode="markers", xaxis=xa, yaxis=ya, hoverinfo="skip",
                             marker=dict(color="black", size=7, line=dict(width=0))))
    layout["xaxis%d" % idx] = dict(domain=[px(xl), px(xr)], range=[(xl - c0) / ux, (xr - c0) / ux],
                                   anchor=ya, showline=True, linecolor="black", linewidth=1.6,
                                   ticks="outside", ticklen=4, tickwidth=1.5, tickcolor="black",
                                   tickvals=cats, ticktext=groups, tickangle=-45, showgrid=False,
                                   zeroline=False, tickfont=TICKF)
    layout["yaxis%d" % idx] = dict(domain=[py(y0), py(y0 - ext * ppu)], range=[0, ext], anchor=xa,
                                   showline=False, ticks="outside", ticklen=4, tickwidth=1.5,
                                   tickcolor="black", tickvals=y_ticks_15 if topv == 1.5 else y_ticks_25,
                                   tickformat=".1f", showgrid=False, zeroline=False, tickfont=TICKF)
    shapes.append(dict(type="line", xref="%s domain" % xa, yref=ya, x0=0, x1=0, y0=0, y1=topv,
                       line=dict(color="black", width=1.6)))
    g0, g1, top, lend, rend, lab = sig
    shapes.append(dict(type="path", xref=xa, yref=ya,
                       path="M %f,%f L %f,%f L %f,%f L %f,%f" % (g0, lend, g0, top, g1, top, g1, rend),
                       line=dict(color="black", width=1.5)))
    annotations.append(dict(text="<b>%s</b>" % lab, x=(g0 + g1) / 2, y=top, xref=xa, yref=ya,
                            showarrow=False, xanchor="center", yanchor="bottom", yshift=-5,
                            font=dict(size=14, family=FONT, color="black")))
    ann(ytitle, xl - 27, (y0 + ytop) / 2 - 2, 10.5, angle=-90, color="black", bold=True)

ann("MDA-MB-231", 19, 687, 13, angle=-90, color="black", bold=True)
ann("BT-549", 19, 882, 13, angle=-90, color="black", bold=True)
for lab, x in [("c", 39), ("d", 246), ("e", 399), ("f", 547)]:
    ann(lab, x, 601, 20, color="black")

layout["annotations"] = annotations
layout["shapes"] = shapes
fig.update_layout(**layout)
fig.write_html("out.html", config={"displayModeBar": False},
               post_script="document.body.style.margin='0px';document.body.style.overflow='hidden';")
